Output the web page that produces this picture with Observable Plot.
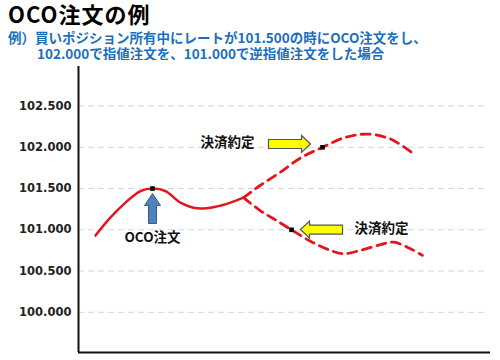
<!DOCTYPE html>
<html><head><meta charset="utf-8">
<script src="https://cdn.jsdelivr.net/npm/d3@7"></script>
<script src="https://cdn.jsdelivr.net/npm/@observablehq/plot@0.6"></script>
<style>
body{margin:0;background:#fff;width:500px;height:360px;overflow:hidden;position:relative;font-family:"Noto Sans CJK JP",sans-serif;}
#title{position:absolute;left:8px;top:0px;font-size:22px;line-height:27px;font-weight:bold;color:#000;letter-spacing:1px;}
#sub{position:absolute;left:8px;top:29px;font-size:13.5px;font-weight:bold;color:#1a6fbd;line-height:16px;white-space:nowrap;}
#sub .l2{padding-left:29px;}
#chart{position:absolute;left:0;top:60px;}
</style></head><body>
<div id="title">OCO注文の例</div>
<div id="sub"><div>例）買いポジション所有中にレートが101.500の時にOCO注文をし、</div><div class="l2">102.000で指値注文を、101.000で逆指値注文をした場合</div></div>
<div id="chart"></div>
<script>
// y-axis tick labels
const yTicks = [100.0, 100.5, 101.0, 101.5, 102.0, 102.5];
// solid path (before OCO result)
const solidX = [95, 110, 125, 140, 152, 165, 180, 197, 215, 230, 243];
const solidV = [100.93, 101.15, 101.33, 101.47, 101.5, 101.47, 101.33, 101.26, 101.28, 101.33, 101.39];
// upper dashed scenario
const upperX = [243, 260, 280, 300, 322, 345, 367, 390, 412];
const upperV = [101.39, 101.54, 101.70, 101.87, 102.0, 102.12, 102.16, 102.1, 101.93];
// lower dashed scenario
const lowerX = [243, 260, 275, 291, 310, 330, 343, 360, 380, 393, 410, 422];
const lowerV = [101.39, 101.23, 101.12, 101.0, 100.86, 100.75, 100.71, 100.75, 100.82, 100.85, 100.77, 100.69];
// key points
const markerX = [152, 322, 291];
const markerV = [101.5, 102.0, 101.0];
// annotations
const labelText = ["OCO注文", "決済約定", "決済約定"];
const labelX = [152, 227, 381];
const labelV = [100.907, 102.06, 101.01];
const arrowKind = ["up", "right", "left"];
const arrowX = [152, 289, 321];
const arrowV = [101.258, 102.04, 101.003];

const toRows = (xs, vs) => xs.map((x, i) => ({x, v: vs[i]}));
const solid = toRows(solidX, solidV);
const upper = toRows(upperX, upperV);
const lower = toRows(lowerX, lowerV);
const markers = toRows(markerX, markerV);
const labels = labelText.map((t, i) => ({t, x: labelX[i], v: labelV[i]}));
const arrows = arrowKind.map((k, i) => ({k, x: arrowX[i], v: arrowV[i]}));

const upArrow = {draw(c){c.moveTo(0,-15);c.lineTo(8,-3);c.lineTo(4,-3);c.lineTo(4,15);c.lineTo(-4,15);c.lineTo(-4,-3);c.lineTo(-8,-3);c.closePath();}};
const rightArrow = {draw(c){c.moveTo(21,0);c.lineTo(12,-8.5);c.lineTo(12,-4.5);c.lineTo(-21,-4.5);c.lineTo(-21,4.5);c.lineTo(12,4.5);c.lineTo(12,8.5);c.closePath();}};
const leftArrow = {draw(c){c.moveTo(-21,0);c.lineTo(-12,-8.5);c.lineTo(-12,-4.5);c.lineTo(21,-4.5);c.lineTo(21,4.5);c.lineTo(-12,4.5);c.lineTo(-12,8.5);c.closePath();}};

const red = "#e8141b";
const yMin = 99.513, yMax = 102.979;

const chart = Plot.plot({
  width: 500, height: 300,
  marginLeft: 78, marginRight: 10, marginTop: 6, marginBottom: 8,
  x: {domain: [78, 490], axis: null},
  y: {domain: [yMin, yMax], ticks: yTicks, tickFormat: d => d.toFixed(3), tickSize: 0, tickPadding: 7, label: null},
  style: {fontFamily: "DejaVu Sans", fontSize: "11.5px", fontWeight: "bold", color: "#222", background: "#fff"},
  marks: [
    Plot.ruleY(yTicks, {x1: 78, x2: 487, stroke: "#ccd6e3", strokeDasharray: "6,4", strokeWidth: 1}),
    Plot.line(solid, {x: "x", y: "v", stroke: red, strokeWidth: 2.5, curve: "catmull-rom"}),
    Plot.line(upper, {x: "x", y: "v", stroke: red, strokeWidth: 2.8, strokeDasharray: "9,6", curve: "catmull-rom"}),
    Plot.line(lower, {x: "x", y: "v", stroke: red, strokeWidth: 2.8, strokeDasharray: "9,6", curve: "catmull-rom"}),
    Plot.dot(markers, {x: "x", y: "v", symbol: "square", r: 2.6, fill: "#000", stroke: null}),
    Plot.dot(arrows.filter(d => d.k === "up"), {x: "x", y: "v", symbol: upArrow, fill: "#4f81bd", stroke: "#385d8a", strokeWidth: 1}),
    Plot.dot(arrows.filter(d => d.k === "right"), {x: "x", y: "v", symbol: rightArrow, fill: "#ffff00", stroke: "#555", strokeWidth: 1.2}),
    Plot.dot(arrows.filter(d => d.k === "left"), {x: "x", y: "v", symbol: leftArrow, fill: "#ffff00", stroke: "#555", strokeWidth: 1.2}),
    Plot.text(labels, {x: "x", y: "v", text: "t", fontSize: 13.5, fontWeight: "bold", fill: "#111", fontFamily: "Noto Sans CJK JP"}),
    Plot.ruleX([78], {y1: yMin, y2: yMax, stroke: "#111", strokeWidth: 2}),
    Plot.ruleY([yMin], {x1: 78, x2: 490, stroke: "#111", strokeWidth: 2})
  ]
});
document.getElementById("chart").appendChild(chart);
</script>
</body></html>
